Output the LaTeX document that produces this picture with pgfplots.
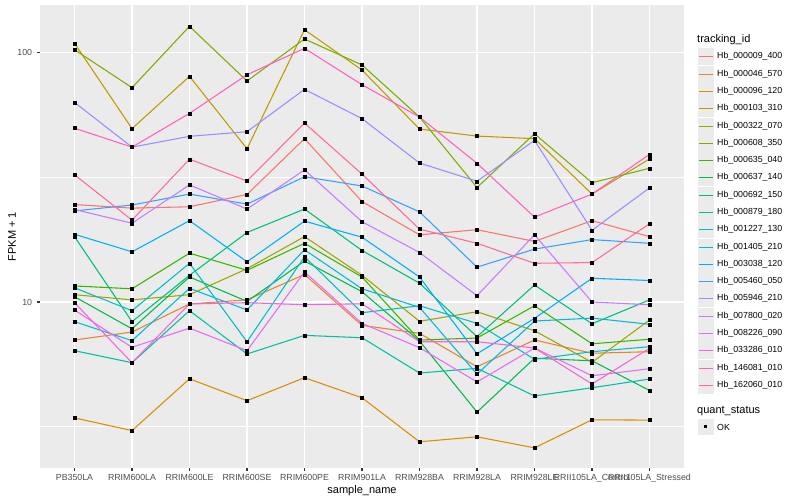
\documentclass[border=0pt]{standalone}
\usepackage{pgfplots}
\pgfplotsset{compat=1.18}
\usepackage{pgfplotstable}
\usepackage{fontspec}
\setmainfont{Liberation Sans}

\definecolor{panelbg}{RGB}{235,235,235}
\definecolor{gray30}{RGB}{77,77,77}
\definecolor{gray20}{RGB}{51,51,51}
% ggplot hue palette, 20 levels
\definecolor{c01}{HTML}{F8766D}
\definecolor{c02}{HTML}{EA8331}
\definecolor{c03}{HTML}{D89000}
\definecolor{c04}{HTML}{C09B00}
\definecolor{c05}{HTML}{A3A500}
\definecolor{c06}{HTML}{7CAE00}
\definecolor{c07}{HTML}{39B600}
\definecolor{c08}{HTML}{00BB4E}
\definecolor{c09}{HTML}{00BF7D}
\definecolor{c10}{HTML}{00C1A3}
\definecolor{c11}{HTML}{00BFC4}
\definecolor{c12}{HTML}{00BAE0}
\definecolor{c13}{HTML}{00B0F6}
\definecolor{c14}{HTML}{35A2FF}
\definecolor{c15}{HTML}{9590FF}
\definecolor{c16}{HTML}{C77CFF}
\definecolor{c17}{HTML}{E76BF3}
\definecolor{c18}{HTML}{FA62DB}
\definecolor{c19}{HTML}{FF62BC}
\definecolor{c20}{HTML}{FF6C91}

% FPKM + 1 per sample (x = sample index)
\pgfplotstableread{
x  s01  s02   s03  s04   s05  s06   s07  s08   s09  s10  s11  s12   s13   s14  s15  s16  s17  s18  s19   s20
0  24.6 7.04  3.43 109.1 10.7 102.8 11.6 10.5  18.3 6.38 11.4 8.34  18.7  23.2 63.2 23.5 9.29 9.94 49.8  32.4
1  23.8 7.58  3.05 49.6  10.2 72.4  11.3 7.81  8.34 5.71 9.23 7.00  15.9  24.5 41.8 20.7 6.58 5.71 41.8  21.3
2  24.1 9.82  4.92 80.4  10.7 127.6 15.7 12.6  12.8 9.23 14.3 11.35 21.2  27.1 46.2 29.5 7.86 9.82 57.1  37.4
3  27.0 10.2  4.02 41.2  13.6 77.0  13.4 10.06 19.0 6.19 6.93 9.29  14.5  24.7 48.2 23.6 6.38 9.94 81.6  30.6
4  45.2 12.9  4.97 123.7 18.3 113.5 17.2 14.6  23.6 7.35 15.2 16.2  21.1  31.8 71.3 33.9 13.2 9.75 104.1 52.2
5  25.3 8.06  4.13 85.2  12.8 89.3  12.6 11.0  16.1 7.19 9.06 11.3  18.2  29.2 54.4 21.0 8.21 9.84 74.4  32.6
6  18.6 7.49  2.75 49.4  8.37 55.2  7.04 6.98  11.9 5.19 9.66 9.52  12.6  23.0 36.1 15.8 6.56 6.93 55.2  19.6
7  19.5 5.50  2.88 46.3  9.14 28.8  7.17 3.62  7.26 5.42 8.21 5.14  6.20  13.8 30.5 10.6 4.78 6.93 36.0  17.2
8  17.5 7.04  2.60 45.2  7.67 47.3  9.66 5.95  11.7 4.20 5.89 8.39  8.60  16.3 44.5 18.6 6.54 6.54 21.9  14.3
9  21.2 6.23  3.37 27.1  5.73 30.1  6.80 5.81  8.18 4.53 6.32 8.62  12.45 17.8 19.4 10.0 5.06 4.69 27.1  14.4
10 18.3 6.32  3.36 37.5  8.47 34.4  7.09 4.42  10.2 4.91 6.62 8.14  12.2  17.2 28.7 9.75 5.40 6.52 39.1  20.6
}\datatab

\begin{document}
\begin{tikzpicture}[x=1bp,y=1bp]
\path[use as bounding box] (0,0) rectangle (800,500);
\begin{axis}[
  at={(40bp,32bp)}, anchor=south west,
  scale only axis, width=644bp, height=463bp,
  ymode=log,
  xmin=-0.6, xmax=10.6,
  ymin=2.159, ymax=155.4,
  xtick={0,...,10},
  xticklabels={PB350LA,RRIM600LA,RRIM600LE,RRIM600SE,RRIM600PE,RRIM901LA,RRIM928BA,RRIM928LA,RRIM928LE,RRII105LA\_Control,RRII105LA\_Stressed},
  ytick={10,100}, yticklabels={10,100},
  minor ytick={3.1623,31.623},
  minor xtick={},
  grid=both,
  major grid style={white, line width=1.07bp},
  minor grid style={white, line width=0.53bp},
  axis background/.style={fill=panelbg},
  axis line style={draw=none},
  tick align=outside, tick pos=left,
  major tick length=2.75bp, minor tick length=0pt,
  tick style={gray20, line width=1.07bp},
  xticklabel style={font=\fontsize{8.8bp}{10bp}\selectfont, text=gray30, anchor=base, inner sep=0pt, yshift=-10bp},
  yticklabel style={font=\fontsize{8.8bp}{10bp}\selectfont, text=gray30, anchor=east, inner sep=0pt, xshift=-5bp},
  xlabel={sample\_name}, ylabel={FPKM + 1},
  label style={font=\fontsize{11bp}{13bp}\selectfont},
  xlabel style={at={(rel axis cs:0.5,-0.05)}, anchor=center},
  ylabel style={at={(rel axis cs:-0.0435,0.5)}, anchor=center},
]
\pgfplotsinvokeforeach{01,02,03,04,05,06,07,08,09,10,11,12,13,14,15,16,17,18,19,20}{
  \addplot[c#1, line width=1.07bp, no markers] table[x=x, y=s#1]{\datatab};
}
\pgfplotsinvokeforeach{01,02,03,04,05,06,07,08,09,10,11,12,13,14,15,16,17,18,19,20}{
  \addplot[only marks, mark=square*, mark size=1.5bp, black] table[x=x, y=s#1]{\datatab};
}
\end{axis}

% legend: tracking_id
\node[anchor=west, inner sep=0pt, font=\fontsize{11bp}{13bp}\selectfont] at (697,460.5) {tracking\_id};
\foreach \k/\nm/\cl in {0/Hb\_000009\_400/c01, 1/Hb\_000046\_570/c02, 2/Hb\_000096\_120/c03,
  3/Hb\_000103\_310/c04, 4/Hb\_000322\_070/c05, 5/Hb\_000608\_350/c06, 6/Hb\_000635\_040/c07,
  7/Hb\_000637\_140/c08, 8/Hb\_000692\_150/c09, 9/Hb\_000879\_180/c10, 10/Hb\_001227\_130/c11,
  11/Hb\_001405\_210/c12, 12/Hb\_003038\_120/c13, 13/Hb\_005460\_050/c14, 14/Hb\_005946\_210/c15,
  15/Hb\_007800\_020/c16, 16/Hb\_008226\_090/c17, 17/Hb\_033286\_010/c18, 18/Hb\_146081\_010/c19,
  19/Hb\_162060\_010/c20} {
  \pgfmathsetmacro{\yy}{floor(443-17.28*\k)+0.5}
  \fill[panelbg] (697.5,{\yy-8.1}) rectangle (713.7,{\yy+8.1});
  \fill[fill=\cl] (698.5,{\yy-0.7}) rectangle (712.7,{\yy+0.7});
  \node[anchor=west, inner sep=0pt, font=\fontsize{8.8bp}{10bp}\selectfont] at (717,\yy) {\nm};
}
% legend: quant_status
\node[anchor=west, inner sep=0pt, font=\fontsize{11bp}{13bp}\selectfont] at (697,89) {quant\_status};
\fill[panelbg] (697.5,64.9) rectangle (713.7,81.1);
\fill[black] (704.1,71.5) rectangle (707.1,74.5);
\node[anchor=west, inner sep=0pt, font=\fontsize{8.8bp}{10bp}\selectfont] at (717,73) {OK};
\end{tikzpicture}
\end{document}
